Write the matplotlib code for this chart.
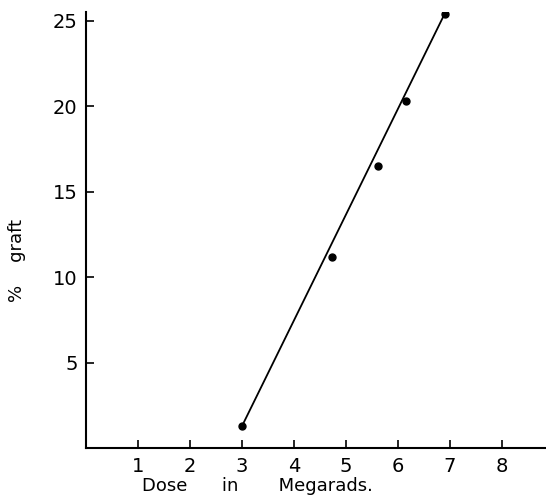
import matplotlib
matplotlib.use("Agg")
import matplotlib.pyplot as plt

# data
dose = [3.0, 4.73, 5.62, 6.15, 6.9]
graft = [1.3, 11.2, 16.5, 20.3, 25.4]

# fitted straight line
fit_x = [3.0, 6.9]
fit_y = [1.3, 25.4]

xticks = [1, 2, 3, 4, 5, 6, 7, 8]
yticks = [5, 10, 15, 20, 25]

fig = plt.figure(figsize=(5.46, 4.97), dpi=100)
ax = fig.add_axes([0.1575, 0.0976, 0.8425, 0.878])

ax.plot(fit_x, fit_y, color="black", lw=1.3)
ax.plot(dose, graft, "o", color="black", ms=5)

ax.set_xlim(0, 8.85)
ax.set_ylim(0, 25.5)
ax.set_xticks(xticks)
ax.set_yticks(yticks)
ax.set_xticklabels([str(t) for t in xticks])
ax.set_yticklabels([str(t) for t in yticks])

for s in ["top", "right"]:
    ax.spines[s].set_visible(False)
for s in ["left", "bottom"]:
    ax.spines[s].set_linewidth(1.5)

ax.tick_params(direction="in", length=6, width=1.2, labelsize=14, pad=6)

ax.set_xlabel("Dose      in       Megarads.", fontsize=13)
ax.xaxis.set_label_coords(0.372, -0.065)
ax.set_ylabel("%    graft", fontsize=13)
ax.yaxis.set_label_coords(-0.13, 0.43)

fig.savefig("out.png", dpi=100)
